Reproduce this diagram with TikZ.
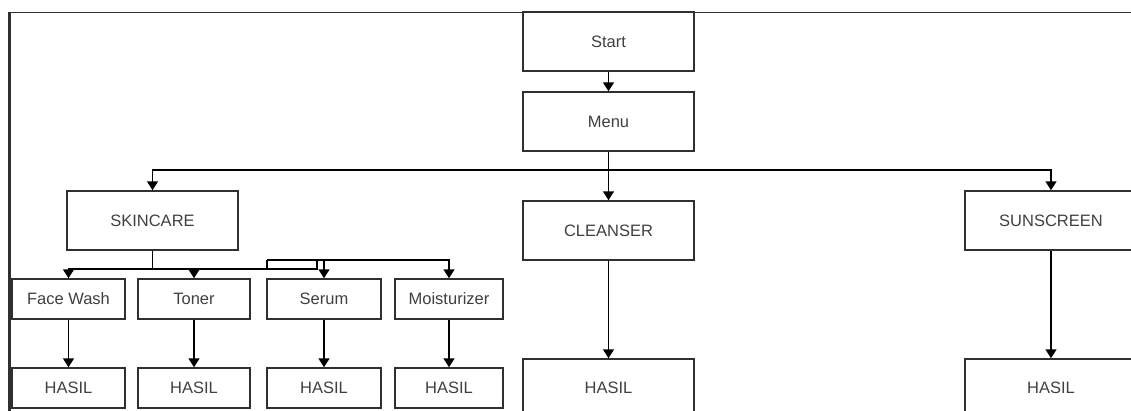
\documentclass[tikz,border=0pt]{standalone}
\usepackage{fontspec}
\setmainfont{Liberation Sans}
\usepackage{tikz}
\usetikzlibrary{arrows.meta}
\definecolor{ink}{HTML}{303030}
\definecolor{txt}{HTML}{404040}
\tikzset{
  box/.style={draw=ink,line width=1.5pt,inner sep=0pt,text=txt,font=\fontsize{16.5}{18}\selectfont},
  big/.style={box,minimum width=171pt,minimum height=59pt},
  small/.style={box,minimum height=40pt},
  ln/.style={draw=black,line width=1.5pt},
  arr/.style={ln,-{Triangle[width=11pt,length=9pt]}},
  frame/.style={draw=ink,line width=1.6pt}
}
\begin{document}
\begin{tikzpicture}[x=1pt,y=-1pt]
\useasboundingbox (0,0) rectangle (1131,410);
\clip (0,0) rectangle (1131,410);
\draw[frame] (9.5,412) -- (9.5,12.5) -- (1133,12.5);
\draw[frame,line width=2.4pt] (9.5,412) -- (9.5,12);
\node[big] (start) at (608.5,41.5) {Start};
\node[big] (menu) at (608.5,121.5) {Menu};
\node[big] (skincare) at (152.5,220.5) {SKINCARE};
\node[big] (cleanser) at (608.5,230.5) {CLEANSER};
\node[big,minimum width=172pt] (sunscreen) at (1051,220.5) {SUNSCREEN};
\node[small,minimum width=113pt] (facewash) at (68.5,299) {Face Wash};
\node[small,minimum width=112pt] (toner) at (194,299) {Toner};
\node[small,minimum width=114pt] (serum) at (324,299) {Serum};
\node[small,minimum width=108pt] (moist) at (449,299) {Moisturizer};
\node[small,minimum width=113pt] (hfacewash) at (68.5,388) {HASIL};
\node[small,minimum width=112pt] (htoner) at (194,388) {HASIL};
\node[small,minimum width=114pt] (hserum) at (324,388) {HASIL};
\node[small,minimum width=108pt] (hmoist) at (449,388) {HASIL};
\node[big,minimum height=58pt] (hcleanser) at (608.5,388) {HASIL};
\node[big,minimum width=172pt,minimum height=58pt] (hsunscreen) at (1051,388) {HASIL};
\coordinate (split) at (608.5,170);
\coordinate (sk) at (152.5,269);
\coordinate (jA) at (267,260);
\coordinate (jB) at (317,269);
\draw[arr] (start) -- (menu);
\draw[arr] (menu) -- (cleanser);
\draw[arr] (split) -| (skincare.north);
\draw[arr] (split) -| (sunscreen.north);
\draw[ln] (skincare) -- (sk);
\draw[arr] (sk) -| (facewash.north);
\draw[arr] (sk) -| (toner.north);
\draw[ln] (sk) -- (jB) -- (jB |- jA);
\draw[ln] (jA |- sk) -- (jA);
\draw[arr] (jA) -| (moist.north);
\draw[arr] (serum.north |- jA) -- (serum.north);
\foreach \n in {facewash,toner,serum,moist,cleanser,sunscreen}
  \draw[arr] (\n) -- (h\n);
\end{tikzpicture}
\end{document}
